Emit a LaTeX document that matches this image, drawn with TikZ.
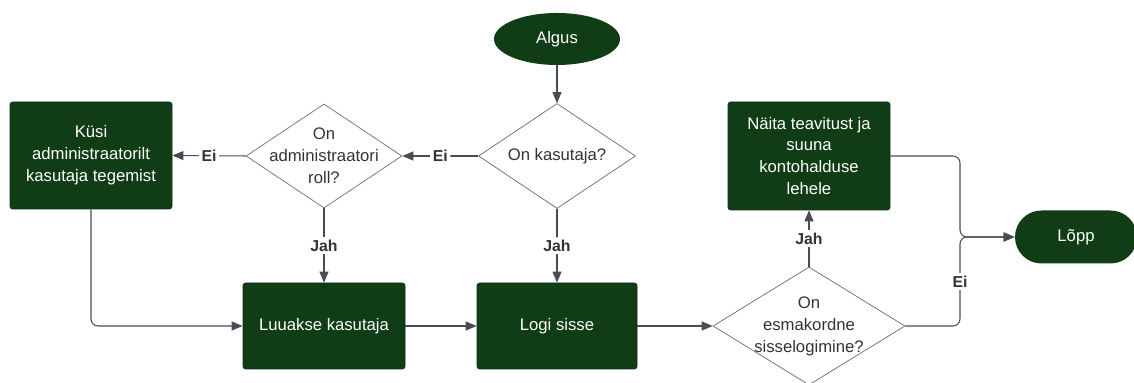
\documentclass[tikz,border=0pt]{standalone}
\usepackage{fontspec}
\setmainfont{Liberation Sans}
\usetikzlibrary{shapes.geometric, arrows.meta}
\definecolor{boxgreen}{HTML}{103D16}
\definecolor{linegray}{HTML}{474C57}
\definecolor{edgegray}{HTML}{6B6B6B}
\begin{document}
\begin{tikzpicture}[
    every node/.style={font=\fontsize{9.5}{12.5}\selectfont},
    process/.style={rectangle, rounded corners=1.5pt, fill=boxgreen, draw=boxgreen!80!black, text=white, align=center, inner sep=0pt},
    decision/.style={diamond, draw=edgegray, fill=white, inner sep=0pt},
    dtext/.style={text=black!80, align=center, inner sep=0pt},
    flow/.style={-{Triangle[length=2.2mm, width=1.8mm]}, linegray, line width=0.6pt, rounded corners=4pt},
    lbl/.style={fill=white, text=black!80, inner sep=1.5pt, font=\fontsize{9}{11}\selectfont\bfseries}
]
    \useasboundingbox (0, 0) rectangle (22.68, 7.66);

    % Start and end
    \node[ellipse, fill=boxgreen, text=white, minimum width=2.52cm, minimum height=1.04cm] (algus) at (11.14, 6.88) {Algus};
    \node[rectangle, rounded corners=0.53cm, fill=boxgreen, text=white, minimum width=2.44cm, minimum height=1.06cm] (lopp) at (21.52, 2.92) {Lõpp};

    % Decisions
    \node[decision, minimum width=3.14cm, minimum height=2.1cm] (kasutaja) at (11.14, 4.54) {};
    \node[dtext] (kasutaja-t) at (kasutaja) {On kasutaja?};
    \node[decision, minimum width=3.12cm, minimum height=2.08cm] (admin) at (6.48, 4.54) {};
    \node[dtext] (admin-t) at (admin) {On\\administraatori\\roll?};
    \node[decision, minimum width=3.84cm, minimum height=2.36cm] (esma) at (16.18, 1.14) {};
    \node[dtext] (esma-t) at (esma) {On\\esmakordne\\sisselogimine?};

    % Processes
    \node[process, minimum width=3.24cm, minimum height=2.14cm] (kysi) at (1.82, 4.55) {Küsi\\administraatorilt\\kasutaja tegemist};
    \node[process, minimum width=3.24cm, minimum height=1.72cm] (luuakse) at (6.48, 1.14) {Luuakse kasutaja};
    \node[process, minimum width=3.2cm, minimum height=1.72cm] (logi) at (11.14, 1.14) {Logi sisse};
    \node[process, minimum width=3.24cm, minimum height=2.16cm] (naita) at (16.18, 4.54) {Näita teavitust ja\\suuna\\kontohalduse\\lehele};

    \coordinate (jn) at (19.2, 2.92);

    % Connectors
    \draw[flow] (algus) -- (kasutaja);
    \draw[flow] (kasutaja.west) -- node[lbl] {Ei} (admin.east);
    \draw[flow] (admin.west) -- node[lbl] {Ei} (kysi.east);
    \draw[flow] (kasutaja.south) -- node[lbl] {Jah} (logi.north);
    \draw[flow] (admin.south) -- node[lbl] {Jah} (luuakse.north);
    \draw[flow] (kysi.south) |- (luuakse.west);
    \draw[flow] (luuakse.east) -- (logi.west);
    \draw[flow] (logi.east) -- (esma.west);
    \draw[flow] (esma.north) -- node[lbl] {Jah} (naita.south);
    \draw[flow] (naita.east) -| (jn) -- (lopp.west);
    \draw[flow] (esma.east) -| node[lbl, pos=0.75] {Ei} (jn) -- (lopp.west);
\end{tikzpicture}
\end{document}
